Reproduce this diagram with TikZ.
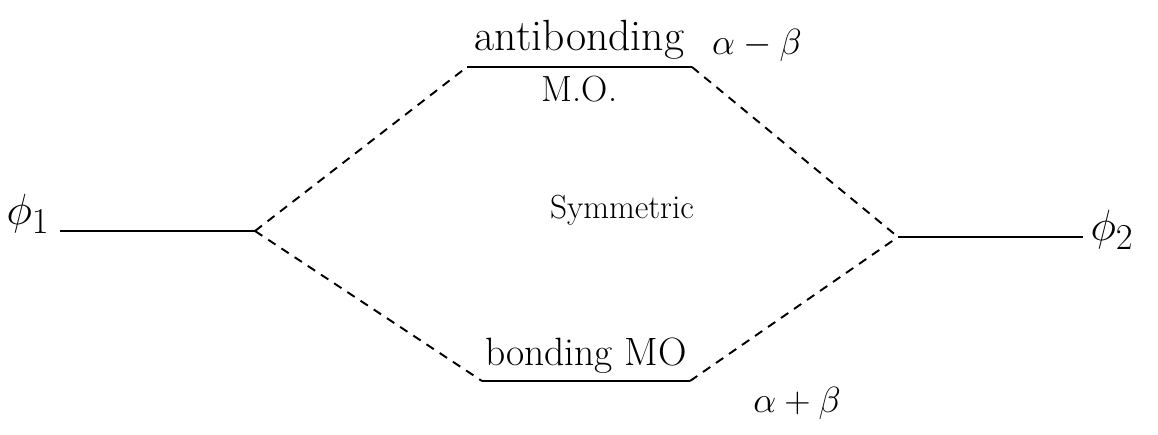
\documentclass[tikz,border=0pt]{standalone}
\usepackage{tikz}
\usetikzlibrary{calc, positioning}

\begin{document}
\begin{tikzpicture}[
  x=0.02cm, y=-0.02cm,
  font=\LARGE,
  level/.style={line width=1.3pt},
  link/.style={line width=1.1pt, dash pattern=on 5pt off 4pt},
  lbl/.style={inner sep=1pt}
]
\useasboundingbox (0,0) rectangle (1158,435);

% --- Atomic orbitals ---
\coordinate (l1) at (60,231);
\coordinate (r1) at (255,231);
\coordinate (l2) at (898,237);
\coordinate (r2) at (1083,237);
\draw[level] (l1) -- (r1);
\draw[level] (l2) -- (r2);
\node[lbl, font=\Huge] (phi1) at (28,214) {$\phi_1$};
\node[lbl, font=\Huge] (phi2) at (1112,230) {$\phi_2$};

% --- Molecular orbitals ---
\coordinate (al) at (467,67);
\coordinate (ar) at (692,67);
\coordinate (bl) at (482,381);
\coordinate (br) at (690,381);
\draw[level] (al) -- (ar);
\draw[level] (bl) -- (br);
\node[lbl, font=\Huge, above=3pt of $(al)!0.5!(ar)$] (anti) {antibonding};
\node[lbl, font=\huge, below=4pt of $(al)!0.5!(ar)$] (mo1) {M.O.};
\node[lbl, font=\fontsize{22.5}{26}\selectfont, above=3pt of $(bl)!0.5!(br)$] (bond) {bonding MO};
\node[lbl, font=\huge] (eab) at (757,45) {$\alpha-\beta$};
\node[lbl, font=\huge] (eap) at (797,403) {$\alpha+\beta$};

% --- Correlation lines ---
\draw[link] (r1) -- (al);
\draw[link] (r1) -- (bl);
\draw[link] (ar) -- (l2);
\draw[link] (br) -- (l2);

\node[lbl, font=\fontsize{19}{23}\selectfont] (sym) at (622,210) {Symmetric};

\end{tikzpicture}
\end{document}
